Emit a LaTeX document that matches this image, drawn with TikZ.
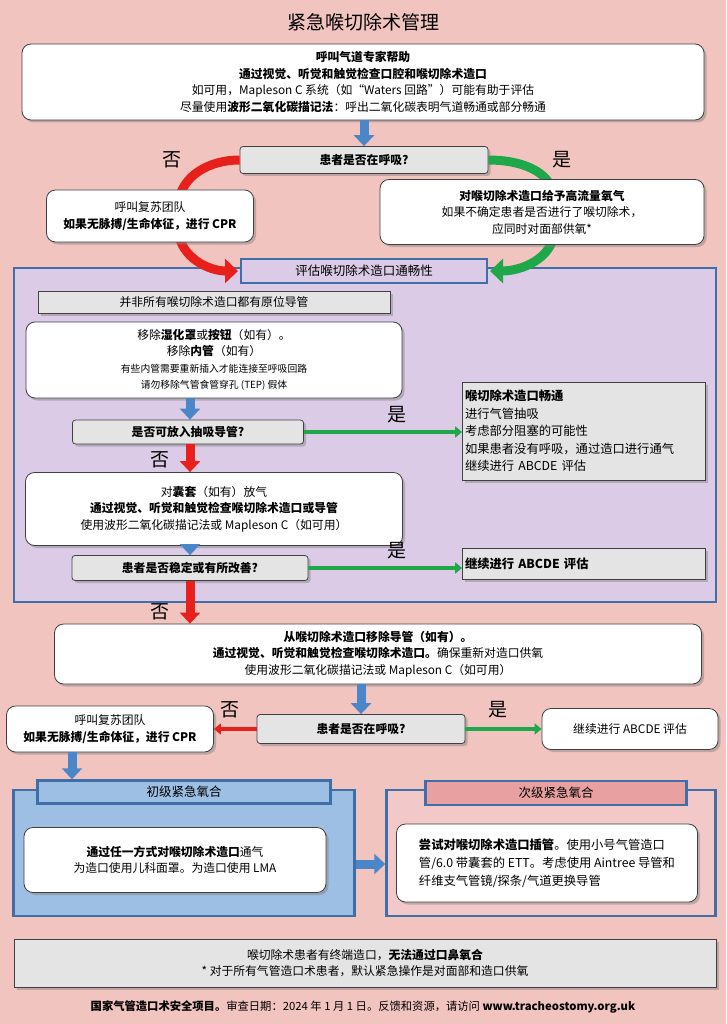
\documentclass[tikz,border=0pt]{standalone}
\usepackage{fontspec}
\setmainfont{Noto Sans CJK SC}
\usetikzlibrary{shadows,arrows.meta,calc}
\definecolor{bg}{HTML}{F2C4C0}
\definecolor{lav}{HTML}{DCCBE6}
\definecolor{bord}{HTML}{3F6FA8}
\definecolor{gbox}{HTML}{E4E4E4}
\definecolor{barrow}{HTML}{4A86C8}
\definecolor{rarrow}{HTML}{E8201C}
\definecolor{garrow}{HTML}{1FA84A}
\definecolor{pblue}{HTML}{9DBFE4}
\definecolor{ppink}{HTML}{F2C8C8}
\definecolor{hpink}{HTML}{E8A0A0}
\begin{document}
\begin{tikzpicture}[x=1pt,y=-1pt,
  every node/.style={font=\fontsize{11.8}{16.5}\selectfont, inner sep=2pt},
  wbox/.style={draw=black!75, line width=0.8pt, rounded corners=9pt, fill=white, align=center,
     drop shadow={shadow xshift=2.5pt, shadow yshift=-2.5pt, opacity=0.45}},
  gbx/.style={draw=black!75, line width=0.8pt, rounded corners=3pt, fill=gbox, align=center,
     drop shadow={shadow xshift=2.5pt, shadow yshift=-2.5pt, opacity=0.45}},
  sbox/.style={draw=black!75, line width=0.8pt, fill=gbox, align=left,
     drop shadow={shadow xshift=2.5pt, shadow yshift=-2.5pt, opacity=0.45}},
  panel/.style={draw=bord, line width=2.5pt},
  hdr/.style={draw=bord, line width=2.5pt, align=center, font=\fontsize{12.5}{14}\selectfont},
  blk/.style={line width=9pt, -{Triangle[length=11pt,width=20pt]}, draw=#1},
  thn/.style={line width=4.5pt, -{Triangle[length=7pt,width=11pt]}, draw=#1},
  yn/.style={font=\fontsize{19}{21}\selectfont}]
\fill[bg] (0,0) rectangle (726,1024);
\useasboundingbox (0,0) rectangle (726,1024);
\node[font=\fontsize{19}{22}\selectfont] (title) at (363,22) {紧急喉切除术管理};

\node[wbox, minimum width=682pt, minimum height=76pt] (b1) at (363,82) {\textbf{呼叫气道专家帮助}\\ \textbf{通过视觉、听觉和触觉检查口腔和喉切除术造口}\\ 如可用，Mapleson C 系统（如“Waters 回路”）可能有助于评估\\ 尽量使用\textbf{波形二氧化碳描记法}：呼出二氧化碳表明气道畅通或部分畅通};

\node[panel, fill=lav, minimum width=702pt, minimum height=334pt] (pp) at (365,435) {};

\node[gbx, minimum width=248pt, minimum height=27pt] (q1) at (364,160) {\textbf{患者是否在呼吸?}};
\coordinate (hdrpos) at (364,271);
\draw[line width=9pt, rarrow] (q1.west) to[out=180,in=85] (178,205);
\draw[line width=9pt, rarrow, -{Triangle[length=13pt,width=24pt]}] (178,230) to[out=-85,in=180] (238,271);
\draw[line width=9pt, garrow] (q1.east) to[out=0,in=95] (555,200);
\draw[line width=9pt, garrow, -{Triangle[length=13pt,width=24pt]}] (555,230) to[out=-95,in=0] (490,271);
\node[yn] (no1) at (172,160) {否};
\node[yn] (yes1) at (562,160) {是};
\node[wbox, minimum width=207pt, minimum height=52pt] (lb1) at (150,216) {呼叫复苏团队\\ \textbf{如果无脉搏/生命体征，进行 CPR}};
\node[wbox, minimum width=324pt, minimum height=65pt] (rb1) at (542,212) {\textbf{对喉切除术造口给予高流量氧气}\\ 如果不确定患者是否进行了喉切除术，\\ 应同时对面部供氧*};
\node[hdr, fill=lav, minimum width=246pt, minimum height=24pt] (ass) at (hdrpos) {评估喉切除术造口通畅性};
\draw[blk=barrow] (b1.south -| q1.north) -- (q1.north);

\node[gbx, rounded corners=0pt, minimum width=352pt, minimum height=22pt] (nb) at (214,302) {并非所有喉切除术造口都有原位导管};
\node[wbox, minimum width=376pt, minimum height=76pt] (w2) at (214,360) {移除\textbf{湿化罩}或\textbf{按钮}（如有）。\\ 移除\textbf{内管}（如有）\\ {\fontsize{9.8}{13}\selectfont 有些内管需要重新插入才能连接至呼吸回路}\\ {\fontsize{9.8}{13}\selectfont 请勿移除气管食管穿孔 (TEP) 假体}};
\node[gbx, minimum width=231pt, minimum height=24pt] (q2) at (188,432) {\textbf{是否可放入抽吸导管?}};
\node[sbox, minimum width=243pt, minimum height=98pt, text width=238pt, inner sep=2pt, font=\fontsize{12.3}{17.5}\selectfont] (r2) at (584,431) {\textbf{喉切除术造口畅通}\\ 进行气管抽吸\\ 考虑部分阻塞的可能性\\ 如果患者没有呼吸，通过造口进行通气\\ 继续进行 ABCDE 评估};
\node[wbox, minimum width=377pt, minimum height=73pt] (w3) at (214,509) {对\textbf{囊套}（如有）放气\\ \textbf{通过视觉、听觉和触觉检查喉切除术造口或导管}\\ 使用波形二氧化碳描记法或 Mapleson C（如可用）};
\node[gbx, minimum width=236pt, minimum height=25pt] (q3) at (190,568) {\textbf{患者是否稳定或有所改善?}};
\node[sbox, minimum width=243pt, minimum height=31pt, text width=238pt, font=\fontsize{12.3}{14}\selectfont] (r3) at (584,564) {\textbf{继续进行 ABCDE 评估}};
\draw[thn=garrow] (q2.east) -- (r2.west |- q2.east);
\draw[thn=garrow] (q3.east) -- (r3.west |- q3.east);
\node[yn] (yes2) at (397,415) {是};
\node[yn] (yes3) at (397,551) {是};
\draw[blk=barrow] (w2.south -| 190,0) -- (q2.north -| 190,0);
\draw[blk=rarrow] (q2.south -| 190,0) -- (w3.north -| 190,0);
\node[yn] (no2) at (160,460) {否};
\draw[blk=barrow] (w3.south -| 190,0) -- (q3.north -| 190,0);

\node[wbox, minimum width=647pt, minimum height=60pt] (w4) at (378,654) {\textbf{从喉切除术造口移除导管（如有）。}\\ \textbf{通过视觉、听觉和触觉检查喉切除术造口。}确保重新对造口供氧\\ 使用波形二氧化碳描记法或 Mapleson C（如可用）};
\draw[blk=rarrow] (q3.south -| 190,0) -- (w4.north -| 190,0);
\node[yn] (no3) at (160,612) {否};

\node[gbx, minimum width=208pt, minimum height=29pt] (q4) at (361,729) {\textbf{患者是否在呼吸?}};
\draw[blk=barrow] (w4.south -| q4.north) -- (q4.north);
\node[wbox, minimum width=207pt, minimum height=46pt] (lb4) at (110,729) {呼叫复苏团队\\ \textbf{如果无脉搏/生命体征，进行 CPR}};
\node[wbox, minimum width=176pt, minimum height=41pt] (rb4) at (630,729) {继续进行 ABCDE 评估};
\draw[thn=rarrow] (q4.west) -- (lb4.east);
\draw[thn=garrow] (q4.east) -- (rb4.west);
\node[yn] (no4) at (230,710) {否};
\node[yn] (yes4) at (498,710) {是};

\node[panel, fill=pblue, minimum width=341pt, minimum height=126pt] (lp) at (184,853) {};
\node[panel, fill=ppink, minimum width=329pt, minimum height=126pt] (rp) at (551,853) {};
\node[hdr, fill=pblue, minimum width=293pt, minimum height=23pt] (lh) at (184,792) {初级紧急氧合};
\node[hdr, fill=hpink, minimum width=261pt, minimum height=24pt] (rh) at (556,793) {次级紧急氧合};
\draw[blk=barrow] (lb4.south -| 72,0) -- (lh.north -| 72,0);
\node[wbox, minimum width=302pt, minimum height=65pt] (lw) at (175,860) {\textbf{通过任一方式对喉切除术造口}通气\\ 为造口使用儿科面罩。为造口使用 LMA};
\node[wbox, minimum width=301pt, minimum height=78pt, align=left, font=\fontsize{12.3}{18}\selectfont] (rw) at (547,863) {\textbf{尝试对喉切除术造口插管}。使用小号气管造口\\ 管/6.0 带囊套的 ETT。考虑使用 Aintree 导管和\\ 纤维支气管镜/探条/气道更换导管};
\draw[line width=9pt, barrow, -{Triangle[length=11pt,width=20pt]}] (lp.east |- 0,864) -- (rp.west |- 0,864);

\node[sbox, align=center, minimum width=702pt, minimum height=48pt] (bt) at (365,963) {喉切除术患者有终端造口，\textbf{无法通过口鼻氧合}\\ * 对于所有气管造口术患者，默认紧急操作是对面部和造口供氧};
\node[font=\fontsize{11.3}{13}\selectfont] (ft) at (363,1007) {\textbf{国家气管造口术安全项目。}审查日期：2024 年 1 月 1 日。反馈和资源，请访问 \textbf{www.tracheostomy.org.uk}};
\end{tikzpicture}
\end{document}
